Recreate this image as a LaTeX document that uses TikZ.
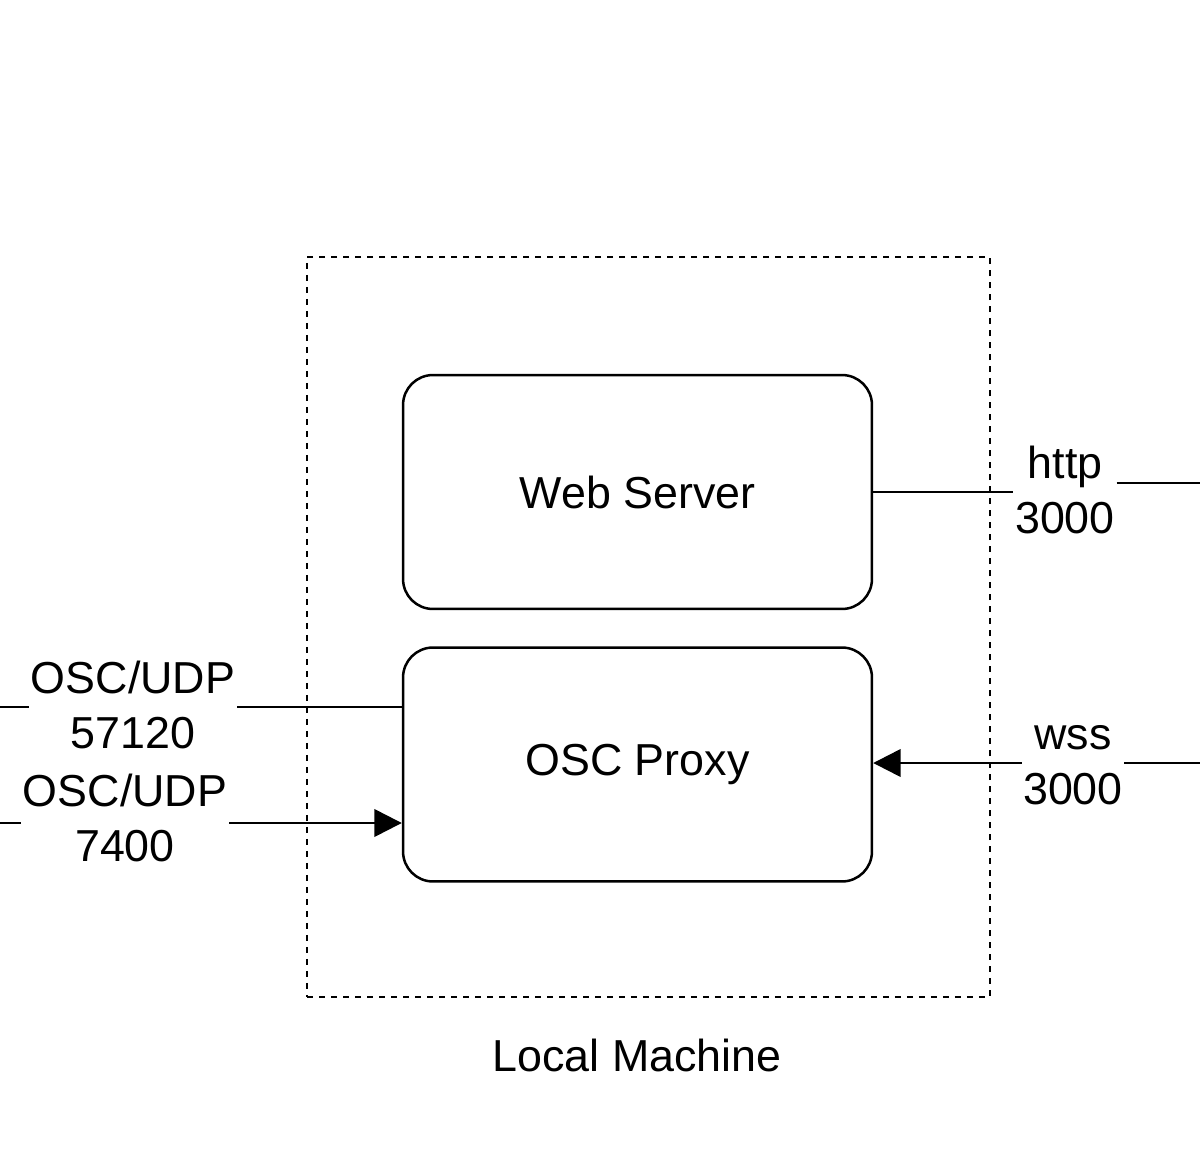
\documentclass[tikz,border=0pt]{standalone}
\usepackage{fontspec}
\setmainfont{Liberation Sans}
\usetikzlibrary{arrows.meta}
\tikzset{
    RB/.style ={rectangle, rounded corners=0.6cm, minimum width=9.38cm, minimum height=4.68cm, draw, line width=0.05cm},
    DB/.style ={rectangle, minimum width=13.66cm, minimum height=14.8cm, draw, line width=0.04cm, dash pattern=on 0.12cm off 0.12cm},
    LB/.style ={fill=white, align=center, inner sep=0.03cm},
    LN/.style ={line width=0.05cm},
    AR/.style ={-{Triangle[length=0.55cm,width=0.55cm]}, line width=0.05cm}}
\begin{document}
\begin{tikzpicture}[x=0.02cm, y=-0.02cm, font=\fontsize{25.5}{31}\selectfont]
        \useasboundingbox (0,0) rectangle (1200,1152);
        \node[DB] (lm) at(648.5,627){};
        \node[RB] (web) at(637.5,492){Web Server};
        \node[RB] (proxy) at(637.5,764.5){OSC Proxy};
        \node (lmlabel) at(637,1055){Local Machine};
        \coordinate (L1) at(0,707);
        \coordinate (L2) at(0,823);
        \coordinate (R1) at(1200,483);
        \coordinate (R2) at(1200,763);
        \draw[LN] (L1) -- (L1 -| proxy.west);
        \draw[AR] (L2) -- (L2 -| proxy.west);
        \draw[AR] (R2) -- (R2 -| proxy.east);
        \node[LB] (udp1) at(133,705) {OSC/UDP\\57120};
        \node[LB] (udp2) at(125,818) {OSC/UDP\\7400};
        \node[LB] (wss) at(1073,765) {wss\\3000};
        \node[LB] (http) at(1065,490) {http\\3000};
        \draw[LN] (web.east) -- (web.east -| http.west);
        \draw[LN] (http.east |- R1) -- (R1);
    \end{tikzpicture}
\end{document}
